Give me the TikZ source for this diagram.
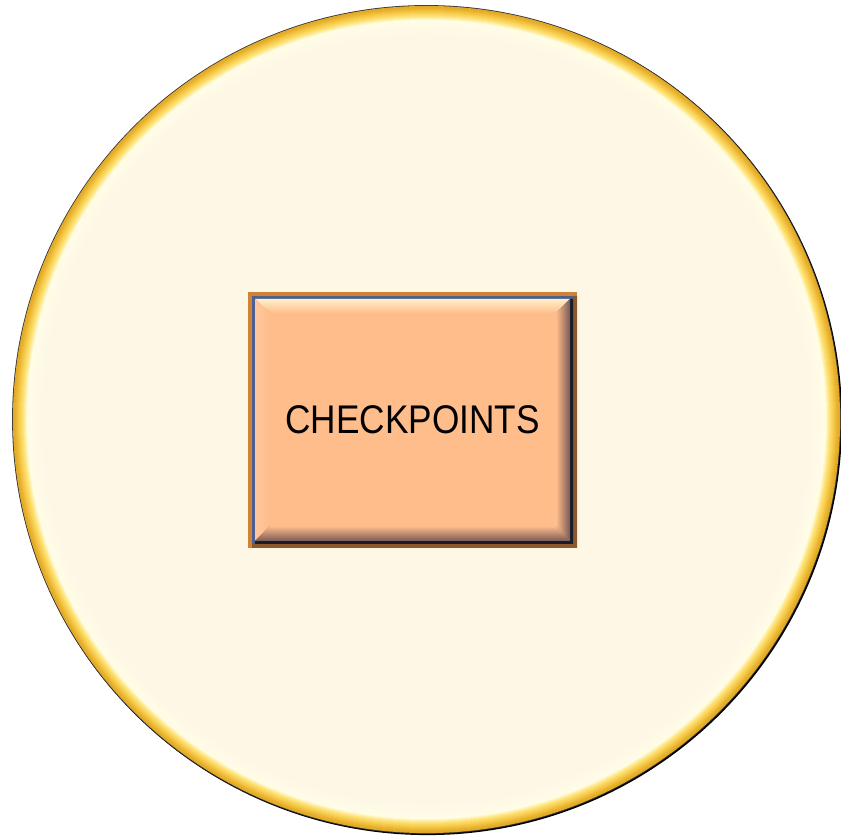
\documentclass[tikz,border=0pt]{standalone}
\usepackage{fontspec}
\setmainfont{Liberation Sans}
\definecolor{cream}{HTML}{FEF7E6}
\definecolor{gold}{HTML}{F0BE38}
\definecolor{golddark}{HTML}{E0A828}
\definecolor{goldlight}{HTML}{FFE377}
\definecolor{hl}{HTML}{FFFDE6}
\definecolor{face}{HTML}{FFBD8B}
\definecolor{frameor}{HTML}{D08236}
\definecolor{framebr}{HTML}{8C5A2A}
\definecolor{bluel}{HTML}{4E6090}
\definecolor{bevtop}{HTML}{FFF0C8}
\definecolor{bevdark}{HTML}{7A5A55}
\begin{document}
\begin{tikzpicture}[x=1pt,y=1pt,
  lbl/.style={font=\fontsize{40}{44}\selectfont, text=black, inner sep=0pt, xscale=0.88}]
\useasboundingbox (0,0) rectangle (841,837);
% circle
\coordinate (c) at (426.5,417.5);
\fill[black] ([shift={(1.0,-1.0)}]c) circle (414.6);
\fill[black!80] (c) circle (414.4);
% rim gradient
\foreach \i in {0,...,30}{
  \pgfmathsetmacro{\r}{413.6-\i}
  \ifnum\i<4
    \pgfmathsetmacro{\p}{100-\i*20}
    \fill[golddark!\p!gold] (c) circle (\r);
  \else\ifnum\i<10
    \pgfmathsetmacro{\p}{100-(\i-4)*100/6}
    \fill[gold!\p!goldlight] (c) circle (\r);
  \else\ifnum\i<14
    \pgfmathsetmacro{\p}{100-(\i-10)*100/4}
    \fill[goldlight!\p!hl] (c) circle (\r);
  \else
    \pgfmathsetmacro{\p}{100-(\i-14)*100/16}
    \fill[hl!\p!cream] (c) circle (\r);
  \fi\fi\fi
}
% box
\coordinate (b1) at (248,289);
\coordinate (b2) at (577,545);
\fill[frameor] (b1) rectangle (b2);
\fill[framebr] (252,289) -- (577,289) -- (577,541) -- (573,541) -- (573,293) -- (252,293) -- cycle;
\fill[bluel] (252,293) rectangle (573,541);
\fill[black!70!bluel] (255,293) -- (573,293) -- (573,538) -- (570,538) -- (570,296) -- (255,296) -- cycle;
% bevel
\coordinate (o1) at (255,296);
\coordinate (o2) at (255,538);
\coordinate (o3) at (570,538);
\coordinate (o4) at (570,296);
\coordinate (i1) at (270,311);
\coordinate (i2) at (270,524);
\coordinate (i3) at (556,524);
\coordinate (i4) at (556,311);
\shade[top color=bevtop, bottom color=face] (o2) -- (o3) -- (i3) -- (i2) -- cycle;
\shade[left color=face!85!white, right color=face] (o1) -- (o2) -- (i2) -- (i1) -- cycle;
\shade[left color=face, right color=bevdark] (o3) -- (o4) -- (i4) -- (i3) -- cycle;
\shade[top color=face, bottom color=bevdark] (o1) -- (o4) -- (i4) -- (i1) -- cycle;
\fill[face] (i1) rectangle (i3);
\node[lbl] (txt) at (412.5,417.5) {CHECKPOINTS};
\end{tikzpicture}
\end{document}
